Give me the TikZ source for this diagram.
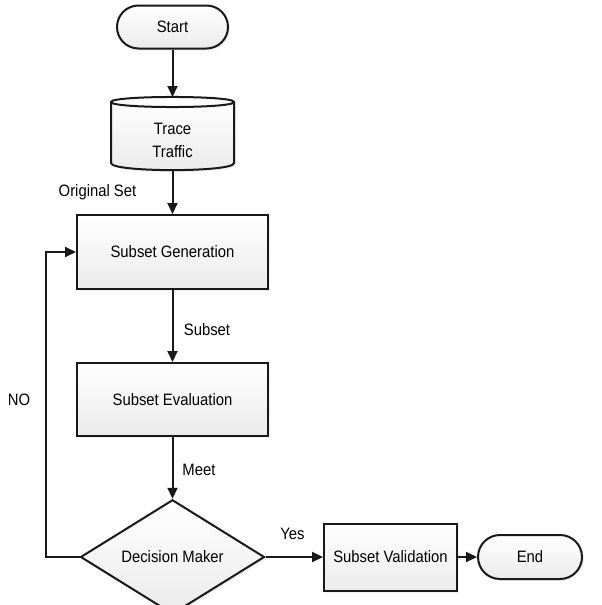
\documentclass[tikz,border=0pt]{standalone}
\usepackage{fontspec}
\setmainfont{Liberation Sans}[FakeStretch=0.9]
\usetikzlibrary{shapes.geometric,shapes.misc,arrows.meta,shadows}
\begin{document}
\begin{tikzpicture}[x=1pt,y=-1pt,
  every node/.style={font=\fontsize{16.5}{23}\selectfont},
  shade/.style={top color=white, bottom color=black!8, draw=black!90, line width=2pt,
    drop shadow={opacity=0.12, shadow xshift=2pt, shadow yshift=-2pt}},
  procbox/.style={shade, rectangle, inner sep=0pt},
  term/.style={shade, rounded rectangle, inner sep=0pt},
  decide/.style={shade, diamond, inner sep=0pt},
  arr/.style={line width=2pt, draw=black!90, -{Triangle[length=11pt,width=10pt]}},
  lbl/.style={inner sep=0pt}]
\useasboundingbox (0,0) rectangle (602,605);

% Start
\node[term, minimum width=111pt, minimum height=43pt] (start) at (172.5,27) {Start};

% Trace Traffic (cylinder drawn by hand)
\path[shade] (111,102) -- (111,163) .. controls (111,172.5) and (234,172.5) .. (234,163)
  -- (234,102) .. controls (234,95.3) and (111,95.3) .. (111,102) -- cycle;
\draw[line width=2pt, draw=black!90] (111,102) .. controls (111,108.7) and (234,108.7) .. (234,102);
\coordinate (tracetop) at (172.5,97);
\coordinate (tracebot) at (172.5,170);
\node[lbl, align=center] (trace) at (172.5,140) {Trace\\Traffic};

% Process boxes
\node[procbox, minimum width=191pt, minimum height=74pt] (gen) at (172.5,252) {Subset Generation};
\node[procbox, minimum width=191pt, minimum height=73pt] (eval) at (172.5,399.5) {Subset Evaluation};
\node[decide, minimum width=184pt, minimum height=92pt] (dec) at (172.5,557) {Decision Maker};
\node[procbox, minimum width=133pt, minimum height=67pt] (valid) at (390.5,557) {Subset Validation};
\node[term, minimum width=104pt, minimum height=44pt] (end) at (530,557) {End};

% Connectors
\draw[arr] (start) -- (tracetop);
\draw[arr] (tracebot) -- (gen);
\draw[arr] (gen) -- (eval);
\draw[arr] (eval) -- (dec);
\draw[arr] (dec) -- (valid);
\draw[arr] (valid) -- (end);
\draw[arr] (dec.west) -- ++(-34,0) |- (gen.west);

% Labels
\node[lbl] (lorig) at (97.5,192) {Original Set};
\node[lbl] (lsub) at (207,330) {Subset};
\node[lbl] (lmeet) at (199,470) {Meet};
\node[lbl] (lyes) at (292.5,534) {Yes};
\node[lbl] (lno) at (19,400) {NO};
\end{tikzpicture}
\end{document}
